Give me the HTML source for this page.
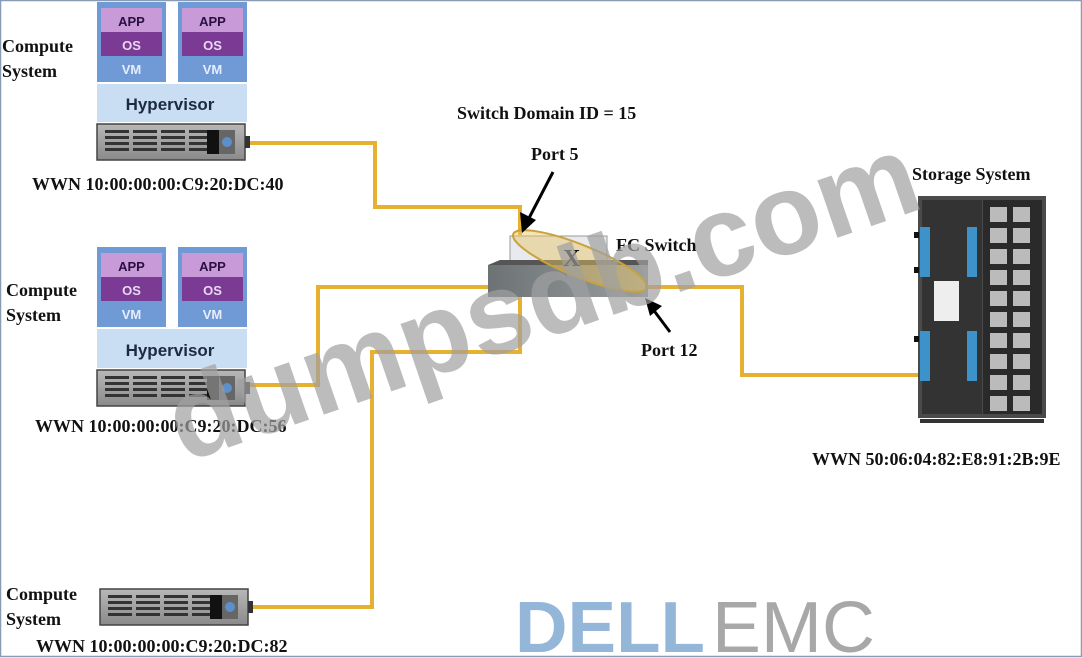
<!DOCTYPE html>
<html><head><meta charset="utf-8"><style>
html,body{margin:0;padding:0;background:#fff;}
svg{display:block;}
text{font-family:"Liberation Serif",serif;font-weight:bold;fill:#111;}
.s{font-family:"Liberation Sans",sans-serif;font-weight:bold;}
</style></head><body>
<svg width="1082" height="658" viewBox="0 0 1082 658" xmlns="http://www.w3.org/2000/svg">
<defs>
<linearGradient id="srv" x1="0" y1="0" x2="0" y2="1"><stop offset="0" stop-color="#b8b8b8"/><stop offset="1" stop-color="#8a8a8a"/></linearGradient>
<linearGradient id="sw" x1="0" y1="0" x2="1" y2="0"><stop offset="0" stop-color="#6d7275"/><stop offset="1" stop-color="#9aa0a2"/></linearGradient>
<g id="server">
<rect x="0" y="0" width="148" height="36" fill="url(#srv)" stroke="#444" stroke-width="1.5"/>
<g fill="#333">
<rect x="8" y="6" width="24" height="3"/><rect x="36" y="6" width="24" height="3"/><rect x="64" y="6" width="24" height="3"/><rect x="92" y="6" width="24" height="3"/>
<rect x="8" y="12" width="24" height="3"/><rect x="36" y="12" width="24" height="3"/><rect x="64" y="12" width="24" height="3"/><rect x="92" y="12" width="24" height="3"/>
<rect x="8" y="18" width="24" height="3"/><rect x="36" y="18" width="24" height="3"/><rect x="64" y="18" width="24" height="3"/><rect x="92" y="18" width="24" height="3"/>
<rect x="8" y="24" width="24" height="3"/><rect x="36" y="24" width="24" height="3"/><rect x="64" y="24" width="24" height="3"/><rect x="92" y="24" width="24" height="3"/>
</g>
<rect x="110" y="6" width="12" height="24" fill="#111"/>
<rect x="122" y="6" width="16" height="24" fill="#666"/>
<circle cx="130" cy="18" r="5" fill="#5d8fc9"/>
<rect x="148" y="12" width="5" height="12" fill="#333"/>
</g>
<g id="vm">
<rect x="0" y="0" width="69" height="80" fill="#6f9ad6"/>
<rect x="4" y="6" width="61" height="24" fill="#c99ad8"/>
<rect x="4" y="30" width="61" height="24" fill="#7b3b95"/>
<text x="34.5" y="24" text-anchor="middle" class="s" font-size="13" style="fill:#2a1040">APP</text>
<text x="34.5" y="48" text-anchor="middle" class="s" font-size="13" style="fill:#e8d8f0">OS</text>
<text x="34.5" y="72" text-anchor="middle" class="s" font-size="13" style="fill:#e6eefb">VM</text>
</g>
</defs>
<rect x="0.5" y="0.5" width="1081" height="656" fill="#fff" stroke="#8a9bb5" stroke-width="1.5"/>

<g fill="none" stroke="#e6b030" stroke-width="4">
<polyline points="248,143 375,143 375,207 520,207 520,235"/>
<polyline points="248,385 318,385 318,287 490,287"/>
<polyline points="252,607 372,607 372,352 520,352 520,297"/>
<polyline points="648,287 742,287 742,375 920,375"/>
</g>

<use href="#vm" x="97" y="2"/><use href="#vm" x="178" y="2"/>
<rect x="97" y="84" width="150" height="38" fill="#c9ddf3"/>
<text x="170" y="110" text-anchor="middle" class="s" font-size="17" style="fill:#1c2a44">Hypervisor</text>
<use href="#server" x="97" y="124"/>
<text x="2" y="52" font-size="18">Compute</text>
<text x="2" y="77" font-size="18">System</text>
<text x="32" y="190" font-size="18">WWN 10:00:00:00:C9:20:DC:40</text>

<use href="#vm" x="97" y="247"/><use href="#vm" x="178" y="247"/>
<rect x="97" y="329" width="150" height="39" fill="#c9ddf3"/>
<text x="170" y="356" text-anchor="middle" class="s" font-size="17" style="fill:#1c2a44">Hypervisor</text>
<use href="#server" x="97" y="370"/>
<text x="6" y="296" font-size="18">Compute</text>
<text x="6" y="321" font-size="18">System</text>
<text x="35" y="432" font-size="18">WWN 10:00:00:00:C9:20:DC:56</text>

<use href="#server" x="100" y="589"/>
<text x="6" y="600" font-size="18">Compute</text>
<text x="6" y="625" font-size="18">System</text>
<text x="36" y="652" font-size="18">WWN 10:00:00:00:C9:20:DC:82</text>

<text x="457" y="119" font-size="18">Switch Domain ID = 15</text>
<text x="531" y="160" font-size="18">Port 5</text>
<rect x="510" y="236" width="97" height="34" fill="#e8eaf0" stroke="#999"/>
<rect x="488" y="265" width="160" height="32" fill="url(#sw)"/>
<polygon points="488,265 500,260 648,260 648,265" fill="#555"/>
<ellipse cx="580" cy="261" rx="72" ry="16" transform="rotate(22 580 261)" fill="#e8c35a" fill-opacity="0.45" stroke="#c9a23a" stroke-width="2"/>
<text x="563" y="266" font-size="24">X</text>
<text x="616" y="251" font-size="18">FC Switch</text>
<line x1="553" y1="172" x2="528" y2="220" stroke="#000" stroke-width="3"/>
<polygon points="522,233 520,212 536,220" fill="#000"/>
<line x1="670" y1="332" x2="652" y2="308" stroke="#000" stroke-width="3"/>
<polygon points="645,298 662,306 650,316" fill="#000"/>
<text x="641" y="356" font-size="18">Port 12</text>

<text x="912" y="180" font-size="18">Storage System</text>
<rect x="918" y="196" width="128" height="222" fill="#4a4a4a"/>
<rect x="922" y="200" width="60" height="214" fill="#333"/>
<rect x="983" y="200" width="59" height="214" fill="#2a2a2a"/>
<rect x="920" y="227" width="10" height="50" fill="#3d93c9"/><rect x="967" y="227" width="10" height="50" fill="#3d93c9"/>
<rect x="920" y="331" width="10" height="50" fill="#3d93c9"/><rect x="967" y="331" width="10" height="50" fill="#3d93c9"/>
<rect x="914" y="232" width="5" height="6" fill="#111"/><rect x="914" y="267" width="5" height="6" fill="#111"/><rect x="914" y="336" width="5" height="6" fill="#111"/>
<rect x="934" y="281" width="25" height="40" fill="#eee"/>
<g fill="#bbb">
<rect x="990" y="207" width="17" height="15"/><rect x="1013" y="207" width="17" height="15"/>
<rect x="990" y="228" width="17" height="15"/><rect x="1013" y="228" width="17" height="15"/>
<rect x="990" y="249" width="17" height="15"/><rect x="1013" y="249" width="17" height="15"/>
<rect x="990" y="270" width="17" height="15"/><rect x="1013" y="270" width="17" height="15"/>
<rect x="990" y="291" width="17" height="15"/><rect x="1013" y="291" width="17" height="15"/>
<rect x="990" y="312" width="17" height="15"/><rect x="1013" y="312" width="17" height="15"/>
<rect x="990" y="333" width="17" height="15"/><rect x="1013" y="333" width="17" height="15"/>
<rect x="990" y="354" width="17" height="15"/><rect x="1013" y="354" width="17" height="15"/>
<rect x="990" y="375" width="17" height="15"/><rect x="1013" y="375" width="17" height="15"/>
<rect x="990" y="396" width="17" height="15"/><rect x="1013" y="396" width="17" height="15"/>
</g>
<rect x="920" y="419" width="124" height="4" fill="#333"/>
<text x="812" y="465" font-size="18">WWN 50:06:04:82:E8:91:2B:9E</text>

<text x="555" y="335" text-anchor="middle" transform="rotate(-19 555 335)" class="s" font-size="115" style="fill:#a0a0a0;fill-opacity:0.7">dumpsdb.com</text>

<text x="515" y="652" class="s" font-size="72" style="fill:#93b6d9" textLength="190" lengthAdjust="spacingAndGlyphs">DELL</text>
<text x="712" y="652" font-size="72" style="fill:#a8a8a8;font-weight:normal;font-family:'Liberation Sans',sans-serif" textLength="163" lengthAdjust="spacingAndGlyphs">EMC</text>
</svg>
</body></html>
